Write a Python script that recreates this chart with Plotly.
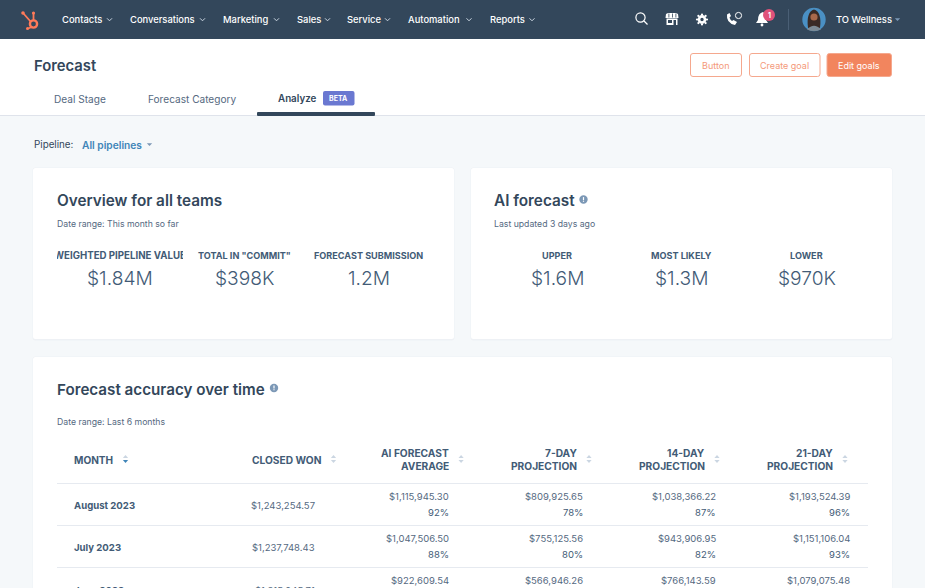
import plotly.graph_objects as go

# ---- data ----
nav_items = ["Contacts", "Conversations", "Marketing", "Sales", "Service", "Automation", "Reports"]
tabs = ["Deal Stage", "Forecast Category", "Analyze"]
buttons = ["Button", "Create goal", "Edit goals"]

overview_labels = ["WEIGHTED PIPELINE VALUE", "TOTAL IN \"COMMIT\"", "FORECAST SUBMISSION"]
overview_values = ["$1.84M", "$398K", "1.2M"]
ai_labels = ["UPPER", "MOST LIKELY", "LOWER"]
ai_values = ["$1.6M", "$1.3M", "$970K"]

months = ["August 2023", "July 2023", "June 2023"]
closed_won = ["$1,243,254.57", "$1,237,748.43", "$1,315,945.71"]
ai_average = ["$1,115,945.30", "$1,047,506.50", "$922,609.54"]
ai_average_pct = ["92%", "88%"]
proj_7 = ["$809,925.65", "$755,125.56", "$566,946.26"]
proj_7_pct = ["78%", "80%"]
proj_14 = ["$1,038,366.22", "$943,906.95", "$766,143.59"]
proj_14_pct = ["87%", "82%"]
proj_21 = ["$1,193,524.39", "$1,151,106.04", "$1,079,075.48"]
proj_21_pct = ["96%", "93%"]

FONT = "Inter"
NAVY = "#33475b"
SLATE = "#425b76"
GREY = "#55697f"
LINE = "#dfe3eb"
BG = "#f5f8fa"
ORANGE = "#f2855e"

shapes = []
notes = []


def text(x, y, s, size=9, color=SLATE, weight=400, anchor="left", **kw):
    # annotations sit about a pixel inside their anchor
    if anchor == "left":
        x -= 1
    elif anchor == "right":
        x += 0.5
    kw.setdefault("yanchor", "middle")
    notes.append(dict(x=x, y=y, text=s, xref="x", yref="y", showarrow=False, xanchor=anchor,
                      font=dict(family=FONT, size=size, color=color, weight=weight),
                      borderpad=0, **kw))


def rect(x0, y0, x1, y1, fill, line=None, width=1):
    shapes.append(dict(type="rect", x0=x0, y0=y0, x1=x1, y1=y1, xref="x", yref="y", fillcolor=fill,
                       line=dict(color=line or fill, width=width if line else 0)))


def path(d, fill=None, line=None, width=1):
    shapes.append(dict(type="path", path=d, xref="x", yref="y", fillcolor=fill or "rgba(0,0,0,0)",
                       line=dict(color=line or "rgba(0,0,0,0)", width=width if line else 0)))


def circle(cx, cy, r, fill=None, line=None, width=1):
    shapes.append(dict(type="circle", x0=cx - r, y0=cy - r, x1=cx + r, y1=cy + r, xref="x", yref="y",
                       fillcolor=fill or "rgba(0,0,0,0)",
                       line=dict(color=line or "rgba(0,0,0,0)", width=width if line else 0)))


def round_rect(x0, y0, x1, y1, r, fill=None, line=None, width=1):
    d = (f"M{x0+r},{y0} L{x1-r},{y0} Q{x1},{y0} {x1},{y0+r} L{x1},{y1-r} Q{x1},{y1} {x1-r},{y1} "
         f"L{x0+r},{y1} Q{x0},{y1} {x0},{y1-r} L{x0},{y0+r} Q{x0},{y0} {x0+r},{y0} Z")
    path(d, fill, line, width)


def chevron(cx, cy, color="#cbd6e2"):
    path(f"M{cx-2.5},{cy-1.2} L{cx},{cy+1.3} L{cx+2.5},{cy-1.2}", line=color, width=1)


def caret(cx, cy, color):
    path(f"M{cx-2.7},{cy-1.3} L{cx+2.7},{cy-1.3} L{cx},{cy+1.5} Z", fill=color)


def sort_icon(cx, cy, down="#cbd6e2"):
    path(f"M{cx-2.6},{cy-1} L{cx+2.6},{cy-1} L{cx},{cy-4} Z", fill="#cbd6e2")
    path(f"M{cx-2.6},{cy+1} L{cx+2.6},{cy+1} L{cx},{cy+4} Z", fill=down)


def info_icon(cx, cy):
    circle(cx, cy, 4.2, fill="#7c98b6")
    rect(cx - 0.6, cy - 2.4, cx + 0.6, cy + 0.6, "#ffffff")
    rect(cx - 0.6, cy + 1.2, cx + 0.6, cy + 2.3, "#ffffff")


# page and nav bar
rect(0, 0, 925, 588, BG)
rect(0, 0, 925, 39, NAVY)

# sprocket logo
path("M23,13 L31,22", line="#ff7a59", width=1.8)
path("M33.5,13 L33.5,20", line="#ff7a59", width=1.8)
path("M32,27 L28,28.5", line="#ff7a59", width=1.8)
circle(33.5, 24, 3.6, line="#ff7a59", width=2.4)
circle(23, 13, 1.8, fill="#ff7a59")
circle(33.5, 13, 1.6, fill="#ff7a59")
circle(27.5, 28.5, 1.5, fill="#ff7a59")

nav_x = [62, 130, 223, 297, 347, 408, 489.5]
nav_chev = [109.5, 202.5, 276.5, 327.5, 387.5, 469, 532]
for lab, x, c in zip(nav_items, nav_x, nav_chev):
    text(x, 19.5, lab, size=9.4, color="#ffffff", weight=500)
    chevron(c, 19.5)

# right hand nav icons
circle(640.5, 17.5, 4.6, line="#ffffff", width=1.2)
path("M644,21 L647.5,24.5", line="#ffffff", width=1.3)
path("M666,14 L668,13 L676,13 L678,14 L678.5,18 L665.5,18 Z", fill="#ffffff")
for sx in [668.5, 672, 675.5]:
    rect(sx, 13.5, sx + 0.8, 17.5, NAVY)
rect(666.5, 18.5, 677.5, 25, "#ffffff")
rect(668, 20, 672, 23, NAVY)
rect(673.5, 20, 676, 25, NAVY)
circle(702, 19.5, 4.4, fill="#ffffff")
circle(702, 19.5, 1.7, fill=NAVY)
for dx, dy in [(0, -5), (0, 5), (-5, 0), (5, 0), (-3.6, -3.6), (3.6, -3.6), (-3.6, 3.6), (3.6, 3.6)]:
    circle(702 + dx, 19.5 + dy, 1.1, fill="#ffffff")
path("M727,14.5 Q726,23 735,25 L737,22 L733.5,20 L732,21 Q730,19.5 729.5,17.5 L731,16 L729.5,13 Z", fill="#ffffff")
circle(738.5, 15.5, 3.1, line="#ffffff", width=1)
path("M763,12 Q758,13 758,20 L756,23 L768,23 L766,20 Q766,13 763,12 Z", fill="#ffffff")
circle(762, 25, 1.4, fill="#ffffff")
circle(769, 15, 6, fill="#e0527a")
text(769, 15, "1", size=7, color="#ffffff", weight=700, anchor="center")
rect(788, 9, 789, 30, "#4a5f75")

# avatar
circle(814, 19.5, 11.7, fill="#4a90c4")
path("M808,28 Q806,12 814,9.5 Q822,12 820,28 Z", fill="#3a2a25")
circle(814, 17, 3.6, fill="#a8684a")
path("M807,29.5 Q814,22 821,29.5 Q814,32.5 807,29.5 Z", fill="#7d8a94")
text(836, 19.5, "TO Wellness", size=9.4, color="#ffffff", weight=500)
caret(897.5, 19.5, "#7c98b6")

# page header
rect(0, 39, 925, 115, "#ffffff")
rect(0, 115, 925, 116, LINE)
text(34, 65.5, "Forecast", size=14.8, color=NAVY, weight=600)

btn_box = [(690.5, 741.5), (749.5, 820), (827, 891.5)]
for i, (lab, (x0, x1)) in enumerate(zip(buttons, btn_box)):
    solid = i == 2
    round_rect(x0, 53.5, x1, 76.5, 2.5, fill=ORANGE if solid else "#ffffff", line="#f5a88e", width=1)
    text((x0 + x1) / 2, 65.5, lab, size=9, color="#ffffff" if solid else "#f4997a", anchor="center")

# tabs
tab_x = [54, 148, 278]
for i, (lab, x) in enumerate(zip(tabs, tab_x)):
    text(x, 98.5, lab, size=9.8 if i == 2 else 10.1, color=NAVY if i == 2 else GREY,
         weight=600 if i == 2 else 400)
round_rect(323, 91, 354.5, 105.5, 2, fill="#6a78d1")
text(338.7, 98.5, "BETA", size=7, color="#ffffff", weight=700, anchor="center")
round_rect(257, 112, 375, 116, 1, fill=NAVY)

# pipeline selector
text(34, 144.5, "Pipeline:", size=9.8, color=NAVY)
text(82, 144.5, "All pipelines", size=10.2, color="#3f85b8", weight=600)
caret(149.5, 144.5, "#7c98b6")

# cards
for box in [(33, 168, 454, 339), (471, 168, 892, 339), (33, 357, 892, 600)]:
    round_rect(box[0] - 0.5, box[1] - 0.5, box[2] + 0.5, box[3] + 1.5, 3, fill="#eef1f5")
    round_rect(*box, 2.5, fill="#ffffff")

text(56.5, 200, "Overview for all teams", size=15.3, color=NAVY, weight=600)
text(56.5, 224, "Date range: This month so far", size=8.7, color=GREY)
text(494, 200, "AI forecast", size=15.3, color=NAVY, weight=600)
info_icon(583.5, 199.5)
text(494, 224, "Last updated 3 days ago", size=8.7, color=GREY)

# first label is clipped by its column in the original
overview_x = [119.5, 244, 368.5]
for i, (lab, val, x) in enumerate(zip(overview_labels, overview_values, overview_x)):
    if i == 0:
        text(x, 255, lab, size=9.7, color=SLATE, weight=700, anchor="center", width=126, align="center")
    else:
        text(x, 255, lab, size=9.1, color=SLATE, weight=700, anchor="center")
    text(x, 277.5, val, size=19.2, color=SLATE, weight=300, anchor="center")

ai_x = [557, 681.7, 806.5]
for lab, val, x in zip(ai_labels, ai_values, ai_x):
    text(x, 255, lab, size=9.1, color=SLATE, weight=700, anchor="center")
    text(x, 277.5, val, size=19.2, color=SLATE, weight=300, anchor="center")

# accuracy table
text(56.5, 389, "Forecast accuracy over time", size=15.2, color=NAVY, weight=600)
info_icon(274, 388)
text(56.5, 421.5, "Date range: Last 6 months", size=8.7, color=GREY)

text(74, 459.5, "MONTH", size=10.1, color=SLATE, weight=700)
sort_icon(125.5, 459, down="#3f85b8")
text(322, 459.5, "CLOSED WON", size=10.2, color=SLATE, weight=700, anchor="right")
sort_icon(333.5, 459)
header_cols = [("AI FORECAST", "AVERAGE", 449.6), ("7-DAY", "PROJECTION", 577.5),
               ("14-DAY", "PROJECTION", 705.5), ("21-DAY", "PROJECTION", 833.5)]
for top, bottom, x in header_cols:
    text(x, 452.7, top, size=10.2, color=SLATE, weight=700, anchor="right")
    text(x, 465.7, bottom, size=10.2, color=SLATE, weight=700, anchor="right")
    sort_icon(x + 11.5, 459)

for y in [483.5, 525.5, 567.5]:
    rect(57, y - 0.5, 868, y + 0.5, "#e6eaf0")

row_mid = [505.5, 547.5, 589.5]
for m, won, y in zip(months, closed_won, row_mid):
    if y < 588:
        text(74, y, m, size=9.6, color=SLATE, weight=700)
        text(315.7, y, won, size=9.5, color=GREY, anchor="right")
    else:
        # last row runs off the bottom of the window
        text(74, 584, m, size=9.6, color=SLATE, weight=700, yanchor="top")
        text(315.7, 584, won, size=9.5, color=GREY, anchor="right", yanchor="top")

value_cols = [(ai_average, ai_average_pct, 449.6), (proj_7, proj_7_pct, 583),
              (proj_14, proj_14_pct, 716.7), (proj_21, proj_21_pct, 850)]
for vals, pcts, x in value_cols:
    for v, y in zip(vals, row_mid):
        text(x, y - 9.5, v, size=9.5, color=GREY, anchor="right")
    for p, y in zip(pcts, row_mid):
        text(x, y + 6.5, p, size=9.5, color=SLATE, anchor="right")

fig = go.Figure()
fig.update_layout(
    width=925, height=588, margin=dict(l=0, r=0, t=0, b=0),
    paper_bgcolor=BG, plot_bgcolor=BG, showlegend=False,
    xaxis=dict(range=[0, 925], visible=False, fixedrange=True),
    yaxis=dict(range=[588, 0], visible=False, fixedrange=True),
    shapes=shapes, annotations=notes,
)
fig.write_html("out.html", config={"displayModeBar": False},
               post_script="document.body.style.margin='0';document.body.style.overflow='hidden';")
